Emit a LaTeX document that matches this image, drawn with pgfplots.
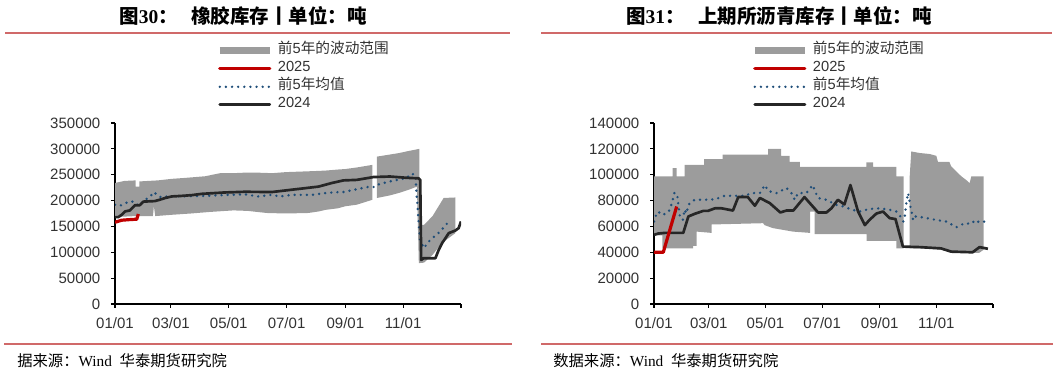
\documentclass[border=0pt]{standalone}
\usepackage{fontspec}
\setmainfont{Liberation Sans}
\newfontfamily\cjk{Noto Sans CJK SC}
\newfontfamily\serif{Liberation Serif}
\usepackage{pgfplots}
\pgfplotsset{compat=1.18}
\definecolor{band}{RGB}{156,156,156}
\definecolor{red25}{RGB}{192,0,0}
\definecolor{avgblue}{RGB}{31,78,121}
\definecolor{dark24}{RGB}{38,38,38}
\definecolor{rulec}{RGB}{208,105,105}
\definecolor{tickc}{RGB}{50,50,50}
\pgfplotsset{mystyle/.style={
  scale only axis, axis lines=left, axis line style={-, black, line width=0.9pt},
  xmin=0, xmax=365, ymin=0,
  xtick={0,59,120,181,243,304,365},
  xticklabels={01/01,03/01,05/01,07/01,09/01,11/01,},
  tick align=outside, major tick length=3pt,
  tick style={black, line width=0.8pt},
  ticklabel style={font=\fontsize{11.25}{12}\selectfont, text=tickc},
  yticklabel style={xshift=-4.5pt},
  xticklabel style={yshift=-4pt},
  /pgf/number format/assume math mode=true,
  /pgf/number format/fixed,
  /pgf/number format/precision=0,
  /pgf/number format/1000 sep={},
  scaled y ticks=false,
  legend cell align=left,
  legend style={draw=none, fill=none, inner sep=0pt, column sep=3.5pt, row sep=0pt,
    font=\fontsize{11}{12}\selectfont, text=tickc,
    nodes={inner sep=0pt, text height=9pt, text depth=4.5pt}},
  avg/.style={avgblue, line width=2pt, dash pattern=on 0pt off 4.6pt, line cap=round},
  y24/.style={dark24, line width=2pt, line join=round},
  y25/.style={red25, line width=2.4pt, line join=round},
}}
\begin{document}
\begin{tikzpicture}
\path[use as bounding box] (0,0) rectangle (792.75pt,280.5pt);
% titles
\node[font=\fontsize{14.6}{16}\selectfont\bfseries] at (182.25pt,268.5pt)
  {{\cjk\bfseries 图}{\serif\bfseries 30}{\cjk\bfseries ：}\hspace{0.7em}{\cjk\bfseries 橡胶库存丨单位：吨}};
\node[font=\fontsize{14.6}{16}\selectfont\bfseries] at (584.25pt,268.5pt)
  {{\cjk\bfseries 图}{\serif\bfseries 31}{\cjk\bfseries ：}\hspace{0.7em}{\cjk\bfseries 上期所沥青库存丨单位：吨}};
\draw[rulec, line width=1.5pt] (3.75pt,255.75pt) -- (382.5pt,255.75pt);
\draw[rulec, line width=1.5pt] (405.75pt,255.75pt) -- (789pt,255.75pt);
\draw[rulec, line width=1.8pt] (3pt,22.5pt) -- (384pt,22.5pt);
\draw[rulec, line width=1.8pt] (405.75pt,22.5pt) -- (789.75pt,22.5pt);
\node[anchor=west, inner sep=0pt, font=\fontsize{11.5}{13}\selectfont] at (12.75pt,10pt)
  {{\cjk 据来源：}{\serif Wind}\hspace{0.5em}{\cjk 华泰期货研究院}};
\node[anchor=west, inner sep=0pt, font=\fontsize{11.5}{13}\selectfont] at (414.75pt,10pt)
  {{\cjk 数据来源：}{\serif Wind}\hspace{0.5em}{\cjk 华泰期货研究院}};

% ---------------- left: rubber ----------------
\begin{axis}[mystyle, at={(86.25pt,52.5pt)}, anchor=south west,
  width=259.5pt, height=135.75pt, ymax=350000,
  ytick={0,50000,100000,150000,200000,250000,300000,350000},
  legend style={at={(0.2919,1.45)}, anchor=north west}]
\addlegendimage{legend image code/.code={\draw[band, line width=5.25pt] (0pt,0pt) -- (37.5pt,0pt);}}
\addlegendentry{{\cjk 前}5{\cjk 年的波动范围}}
\addlegendimage{legend image code/.code={\draw[red25, line width=2.4pt, line cap=round] (0pt,0pt) -- (37.5pt,0pt);}}
\addlegendentry{2025}
\addlegendimage{legend image code/.code={\draw[avgblue, line width=2pt, dash pattern=on 0pt off 4.6pt, line cap=round] (0pt,0pt) -- (37.5pt,0pt);}}
\addlegendentry{{\cjk 前}5{\cjk 年均值}}
\addlegendimage{legend image code/.code={\draw[dark24, line width=2.2pt, line cap=round] (0pt,0pt) -- (37.5pt,0pt);}}
\addlegendentry{2024}
\addplot[fill=band, draw=none, forget plot] coordinates {
 (0,234000) (5,236000) (10,238000) (21.8,239000) (21.8,227000) (25.7,227000) (25.7,237000)
 (35,238000) (45,239000) (60,242000) (75,244000) (95,247000) (111,253000) (125,253000)
 (137,254000) (150,254000) (166,253000) (180,255000) (195,256000) (210,257000) (222,258000)
 (235,260000) (243,261000) (255,264000) (265,267000) (271.5,269000)
 (271.5,201500) (255,192000) (243,189000) (235,185000) (222,182000) (215,179000)
 (204,176000) (180,175000) (160,176000) (140,180000) (125,181000) (100,178000)
 (80,175000) (60,172500) (42.5,170000) (41,189000) (40,170000) (22,170000) (10,169000) (0,169000)
} -- cycle;
\addplot[fill=band, draw=none, forget plot] coordinates {
 (276.3,285000) (290,289000) (300,292000) (310,296000) (321,300000) (321.5,153000)
 (326,153000) (335,170000) (346.7,205000) (359,206000)
 (359,137000) (345,118000) (335,95000) (326,80000) (320.5,79000) (318.5,227000)
 (310,221000) (300,215000) (290,210000) (276.3,205000)
} -- cycle;
\addplot[avg, forget plot] coordinates {
 (0,192000) (5.3,190000) (10.6,195000) (15.8,198000) (20.4,198000) (24.6,190000)
 (31.7,201000) (37,208000) (41.5,216500) (43.8,211000) (49,206000) (54.5,208000)
 (95,209000) (119.4,211000) (137,212000) (151,208000) (165,211000) (174,208000)
 (186.6,211000) (207.7,211000) (222,214500) (232,216000) (241,216500) (255,222000)
 (269,227000) (274,226000) (277.6,231000) (290,237000) (308,243600) (312,252000)
 (316.8,250000) (317.8,221000) (319.2,188600) (320.6,150000) (322,124000) (325.6,108000)
 (332.6,124000) (343,140000) (353.7,163000)
};
\addplot[y24, forget plot] coordinates {
 (0,168000) (3.5,168000) (7,172500) (10.6,179000) (15.8,181000) (21,191000) (26,191000)
 (30,198000) (42,199000) (47,201500) (53,205000) (60,208000) (70,209000) (81,210500)
 (91.5,213000) (116,215700) (137,217000) (165.5,216500) (186.6,221000) (200.7,224000)
 (214.7,227000) (228.8,234000) (241,239000) (255,240000) (272.8,245500) (290,246500)
 (308,244000) (320.3,243000) (322,240000) (323,85000) (325.6,88600) (338,88600)
 (341.5,104600) (345,117600) (348.5,127000) (352,137000) (359,142000) (362.5,146700) (365,159500)
};
\addplot[y25, forget plot] coordinates {
 (0,158000) (7,162000) (14,163000) (23,164000) (24.6,174000)
};
\end{axis}

% ---------------- right: asphalt ----------------
\begin{axis}[mystyle, at={(490.5pt,52.5pt)}, anchor=south west,
  width=254.25pt, height=135.75pt, ymax=140000,
  ytick={0,20000,40000,60000,80000,100000,120000,140000},
  legend style={at={(0.2862,1.45)}, anchor=north west}]
\addlegendimage{legend image code/.code={\draw[band, line width=5.25pt] (0pt,0pt) -- (37.5pt,0pt);}}
\addlegendentry{{\cjk 前}5{\cjk 年的波动范围}}
\addlegendimage{legend image code/.code={\draw[red25, line width=2.4pt, line cap=round] (0pt,0pt) -- (37.5pt,0pt);}}
\addlegendentry{2025}
\addlegendimage{legend image code/.code={\draw[avgblue, line width=2pt, dash pattern=on 0pt off 4.6pt, line cap=round] (0pt,0pt) -- (37.5pt,0pt);}}
\addlegendentry{{\cjk 前}5{\cjk 年均值}}
\addlegendimage{legend image code/.code={\draw[dark24, line width=2.2pt, line cap=round] (0pt,0pt) -- (37.5pt,0pt);}}
\addlegendentry{2024}
\addplot[fill=band, draw=none, forget plot] coordinates {
 (0,98700) (20,98700) (20,105000) (24.4,105000) (24.4,98700) (33,98700) (33,107700)
 (54,107700) (54,112000) (74,112000) (74,115500) (123,115500) (123,120000) (137,120000)
 (137,114600) (146,114600) (146,110000) (157,110000) (157,106000) (228.7,106000)
 (228.7,109500) (236,109500) (236,106000) (261,106000) (261,98700) (268.8,98700)
 (268.8,43000) (261,43000) (261,48800) (229,48800) (229,54000) (173,54000) (173,71500)
 (168,71500) (168,55000) (149.5,56000) (128,58700) (119,61000) (117.5,62500) (62,61500)
 (62,55000) (46,56000) (46,45000) (42,45000) (42,43000) (9,43000) (9,53000) (0,53000)
} -- cycle;
\addplot[fill=band, draw=none, forget plot] coordinates {
 (275.3,98700) (277,118000) (286,116800) (296.8,116000) (304,114600) (305.7,110000)
 (318,110000) (320,106400) (325.5,102500) (331,98700) (336,96000) (339.8,93500)
 (341.6,98700) (355,98700)
 (355,42000) (350,39500) (320,39500) (310,42000) (290,43000) (275.3,43000)
} -- cycle;
\addplot[avg, forget plot] coordinates {
 (0,63800) (1,67000) (4.6,71500) (8.2,69000) (13.6,70000) (17,72800) (20,80000) (22,86000)
 (25,84500) (26,78000) (28,67000) (31,65000) (33,73000) (35,70000) (37,76600) (40,79000)
 (44,80600) (55,80600) (66,81000) (76,83700) (98,83700) (105,85800) (114,85800)
 (119.4,92000) (123,87400) (132,85800) (142.7,89700) (148,85800) (151.6,80600) (155,85800)
 (164,85800) (171,92000) (173,88000) (176.7,81900) (185.7,80600) (196,76700) (203,75600)
 (214,72800) (221,71500) (232,73500) (243,74000) (254,72800) (261,71500) (266.7,66400)
 (268.5,63800) (270,68000) (271.7,78000) (273.5,85800) (274.6,82000) (276,75600) (277,72800)
 (279,65000) (280.6,67800) (289.6,67000) (304,65000) (314.7,63800) (325.5,59400)
 (334.5,62500) (341.6,62000) (346,65000) (350.5,63000) (356,63800) (357,67800)
};
\addplot[y24, forget plot] coordinates {
 (0,53500) (4.6,54500) (11.8,55000) (31.5,55000) (37,67700) (44,69800) (53,72000) (58,72000)
 (65.6,74000) (72.8,74000) (85,72300) (90.7,82700) (101,82700) (108.6,76000) (114,82000)
 (124.7,78000) (136,70800) (142.7,72300) (150,72300) (162,82700) (176.7,70800) (185.7,70800)
 (191,74000) (198,80600) (205,77000) (211.5,92000) (219.7,71500) (227,61000) (232,65000)
 (239.5,70000) (246.6,71500) (253.8,66400) (260,65700) (268,44400) (286,44000) (309,43000)
 (320,40500) (343,40000) (350.5,44000) (359.5,42700)
};
\addplot[y25, forget plot] coordinates {
 (0,40000) (10,40000) (24.4,75400)
};
\end{axis}
\end{tikzpicture}
\end{document}
